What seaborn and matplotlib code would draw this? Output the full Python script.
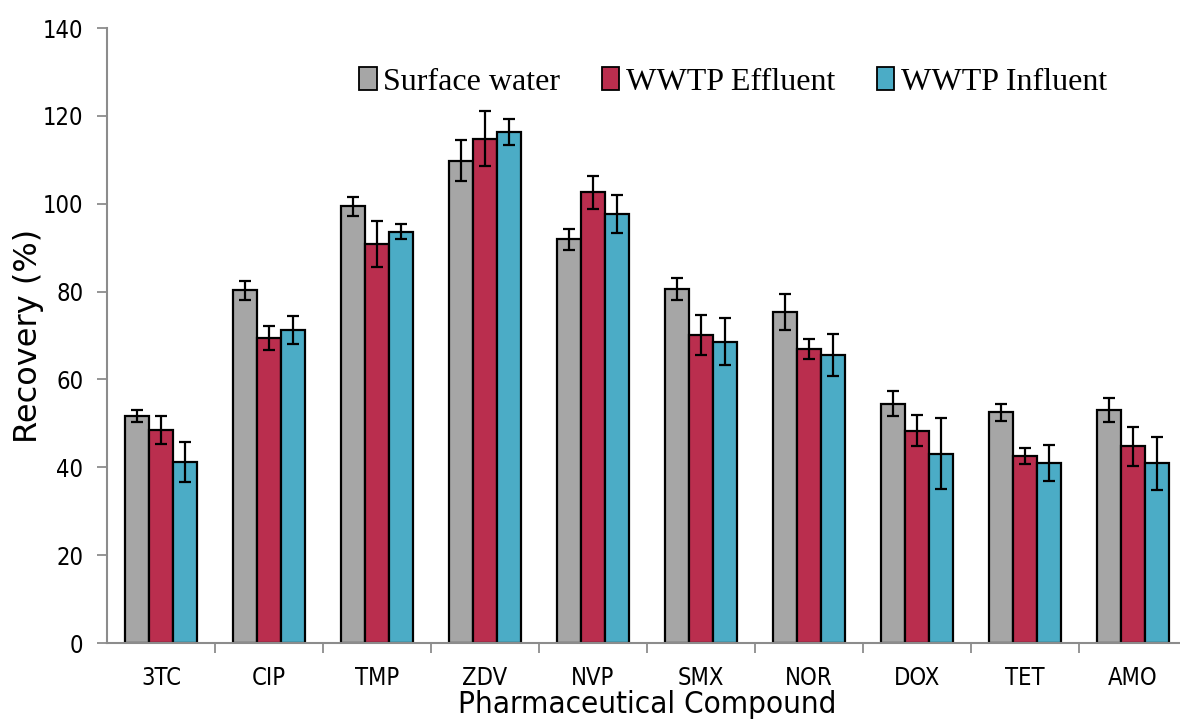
import matplotlib
matplotlib.use("Agg")
import matplotlib.pyplot as plt
import seaborn as sns
import pandas as pd
import numpy as np

categories = ["3TC", "CIP", "TMP", "ZDV", "NVP", "SMX", "NOR", "DOX", "TET", "AMO"]
series_names = ["Surface water", "WWTP Effluent", "WWTP Influent"]
surface = [51.7, 80.3, 99.4, 109.8, 91.9, 80.6, 75.3, 54.5, 52.5, 53.0]
effluent = [48.4, 69.4, 90.8, 114.8, 102.6, 70.1, 66.9, 48.3, 42.6, 44.8]
influent = [41.2, 71.2, 93.6, 116.3, 97.7, 68.6, 65.6, 43.1, 41.0, 40.9]
surface_err = [1.4, 2.2, 2.1, 4.6, 2.4, 2.6, 4.1, 2.8, 2.0, 2.8]
effluent_err = [3.2, 2.8, 5.3, 6.3, 3.8, 4.6, 2.3, 3.5, 1.9, 4.4]
influent_err = [4.5, 3.2, 1.7, 2.9, 4.3, 5.4, 4.8, 8.1, 4.1, 6.1]
yticks = [0, 20, 40, 60, 80, 100, 120, 140]
colors = ["#A6A6A6", "#BA2E4E", "#4BACC6"]

values = [surface, effluent, influent]
errs = [surface_err, effluent_err, influent_err]
df = pd.DataFrame({
    "Compound": categories * 3,
    "Series": sum([[s] * len(categories) for s in series_names], []),
    "Recovery": surface + effluent + influent,
})

sns.set_style("white")
plt.rcParams["text.color"] = "black"
plt.rcParams["axes.labelcolor"] = "black"
plt.rcParams["xtick.color"] = "black"
plt.rcParams["ytick.color"] = "black"

fig = plt.figure(figsize=(11.8, 7.19), dpi=100)
ax = fig.add_axes([0.0907, 0.1057, 0.9153, 0.8553])

sns.barplot(data=df, x="Compound", y="Recovery", hue="Series", order=categories,
            hue_order=series_names, palette=colors, errorbar=None, width=0.667,
            edgecolor="black", linewidth=1.6, saturation=1, ax=ax)

for cont, err in zip(ax.containers, errs):
    xs = [p.get_x() + p.get_width() / 2 for p in cont.patches]
    hs = [p.get_height() for p in cont.patches]
    ax.errorbar(xs, hs, yerr=err, fmt="none", ecolor="black", elinewidth=1.6,
                capsize=4.5, capthick=1.6, zorder=5)

ax.set_ylim(0, 140)
ax.set_yticks(yticks)
ax.set_yticklabels([str(v) for v in yticks], fontsize=17, fontstretch="condensed",
                   fontfamily="DejaVu Sans", color="black")
ax.set_xlim(-0.5, len(categories) - 0.5)
for s in ["top", "right"]:
    ax.spines[s].set_visible(False)
for s in ["left", "bottom"]:
    ax.spines[s].set_color("#8C8C8C")
    ax.spines[s].set_linewidth(1.5)

ax.tick_params(axis="y", which="major", left=True, direction="out", length=7,
               width=1.3, color="#8C8C8C", pad=10)

ax.set_xticks(range(len(categories)))
ax.set_xticklabels(categories, fontsize=17, fontstretch="condensed", color="black")
ax.tick_params(axis="x", which="major", bottom=False, pad=13)
ax.set_xticks(np.arange(0.5, len(categories) - 0.5, 1), minor=True)
ax.tick_params(axis="x", which="minor", bottom=True, direction="out", length=7,
               width=1.3, color="#8C8C8C")

ax.set_ylabel("Recovery (%)", fontsize=23, color="black")
ax.yaxis.set_label_coords(-0.058, 0.5)
ax.set_xlabel("Pharmaceutical Compound", fontsize=22.5, fontstretch="condensed", color="black")
ax.xaxis.set_label_coords(0.5, -0.077)

leg = ax.legend(loc="center left", bbox_to_anchor=(0.207, 0.912), ncol=3, frameon=False,
                prop={"family": "Liberation Serif", "size": 23},
                handlelength=0.55, handleheight=0.7, handletextpad=0.2, columnspacing=1.3)
for h in leg.legend_handles:
    h.set_edgecolor("black")
    h.set_linewidth(1.3)
for t in leg.get_texts():
    t.set_color("black")

fig.savefig("out.png", dpi=100)
